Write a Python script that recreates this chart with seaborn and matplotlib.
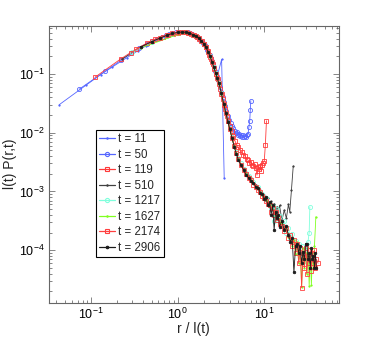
import numpy as np
import pandas as pd
import matplotlib
matplotlib.use("Agg")
import matplotlib.pyplot as plt
from matplotlib.lines import Line2D
import seaborn as sns

# ---------------- data ----------------
labels = ["t = 11", "t = 50", "t = 119", "t = 510", "t = 1217", "t = 1627", "t = 2174", "t = 2906"]

x11 = [0.043, 0.087, 0.13, 0.174, 0.26, 0.35, 0.43, 0.52, 0.65, 0.78, 0.91, 1.04, 1.17, 1.3, 1.43, 1.56,
       1.74, 1.91, 2.09, 2.26, 2.43, 2.61, 2.78, 2.89, 3.22, 3.45]
y11 = [0.030, 0.064, 0.098, 0.13, 0.19, 0.25, 0.30, 0.35, 0.41, 0.46, 0.49, 0.51, 0.52, 0.505, 0.485, 0.46,
       0.405, 0.35, 0.29, 0.235, 0.18, 0.135, 0.108, 0.096, 0.177, 0.0017]

x50 = [0.073, 0.146, 0.22, 0.29, 0.36, 0.44, 0.51, 0.58, 0.66, 0.73, 0.8, 0.88, 0.95, 1.02, 1.1,
       1.17, 1.24, 1.31, 1.39, 1.46, 1.53, 1.61, 1.68, 1.75, 1.83, 1.9, 1.97, 2.05, 2.12, 2.19,
       2.27, 2.34, 2.41, 2.48, 2.56, 2.63, 2.7, 2.78, 2.85, 2.92, 3.0, 3.1, 3.2, 3.3, 3.4,
       3.5, 3.65, 3.8, 3.95, 4.1, 4.25, 4.4, 4.55, 4.7, 4.85, 5.0, 5.15, 5.3, 5.45, 5.6,
       5.75, 5.9, 6.05, 6.2, 6.35, 6.5, 6.65, 6.8, 6.9, 7.0]
y50 = [0.055, 0.112, 0.17, 0.225, 0.28, 0.33, 0.365, 0.395, 0.425, 0.455, 0.475, 0.495, 0.51, 0.52, 0.525,
       0.525, 0.52, 0.51, 0.495, 0.48, 0.465, 0.45, 0.43, 0.41, 0.385, 0.36, 0.335, 0.31, 0.285, 0.26,
       0.235, 0.21, 0.19, 0.166, 0.146, 0.13, 0.113, 0.1, 0.089, 0.08, 0.071, 0.059, 0.049, 0.04, 0.033,
       0.028, 0.023, 0.019, 0.0165, 0.0145, 0.0128, 0.012, 0.0106, 0.0098, 0.0102, 0.0093, 0.0095, 0.0088, 0.0092, 0.0086,
       0.009, 0.0083, 0.0088, 0.0084, 0.0091, 0.0095, 0.0125, 0.016, 0.024, 0.035]

x119 = [0.111, 0.22, 0.33, 0.44, 0.55, 0.67, 0.78, 0.89, 1.0, 1.11, 1.22, 1.33, 1.44, 1.55, 1.67,
        1.78, 1.89, 2.0, 2.11, 2.22, 2.33, 2.44, 2.55, 2.66, 2.78, 2.89, 3.0, 3.11, 3.22, 3.33,
        3.44, 3.55, 3.7, 3.85, 4.0, 4.2, 4.4, 4.6, 4.8, 5.0, 5.25, 5.5, 5.75, 6.0, 6.25,
        6.5, 6.75, 7.0, 7.25, 7.5, 7.75, 8.0, 8.25, 8.5, 8.75, 9.0, 9.25, 9.5, 9.75, 10.0, 10.3, 10.6]
y119 = [0.088, 0.18, 0.265, 0.335, 0.395, 0.43, 0.46, 0.48, 0.5, 0.51, 0.515, 0.505, 0.485, 0.465, 0.435,
        0.4, 0.365, 0.33, 0.29, 0.25, 0.21, 0.178, 0.148, 0.122, 0.1, 0.083, 0.069, 0.056, 0.046, 0.037,
        0.03, 0.025, 0.0195, 0.016, 0.0132, 0.0105, 0.0088, 0.0072, 0.0063, 0.0057, 0.005, 0.0047, 0.0042, 0.004, 0.0036,
        0.0034, 0.0031, 0.0032, 0.0028, 0.0027, 0.0029, 0.0025, 0.0019, 0.0026, 0.0024, 0.0027, 0.0022, 0.0028, 0.003, 0.0033,
        0.0062, 0.016]

x510 = [0.226, 0.38, 0.5, 0.62, 0.75, 0.87, 1.0, 1.12, 1.25, 1.37, 1.5, 1.62, 1.75, 1.87, 2.0,
        2.12, 2.25, 2.37, 2.5, 2.62, 2.75, 2.87, 3.0, 3.2, 3.4, 3.6, 3.8, 4.0, 4.25, 4.5,
        4.75, 5.0, 5.4, 5.8, 6.2, 6.6, 7.0, 7.5, 8.0, 8.5, 9.0, 9.5, 10, 10.5, 11,
        11.5, 12, 12.5, 13, 13.5, 14, 14.5, 15, 16, 17, 18, 19, 19.7, 20.6, 21.6]
y510 = [0.177, 0.29, 0.355, 0.405, 0.455, 0.49, 0.51, 0.52, 0.515, 0.495, 0.47, 0.445, 0.41, 0.37, 0.33,
        0.285, 0.24, 0.2, 0.16, 0.13, 0.103, 0.085, 0.069, 0.047, 0.031, 0.022, 0.0158, 0.0118, 0.0082, 0.006,
        0.0046, 0.0037, 0.0029, 0.0025, 0.0021, 0.0018, 0.0017, 0.0014, 0.0013, 0.0011, 0.00105, 0.0009, 0.00088, 0.0007, 0.00076,
        0.0006, 0.00068, 0.00048, 0.00062, 0.0004, 0.00055, 0.00036, 0.00058, 0.00032, 0.00048, 0.00035, 0.0006, 0.00045, 0.00106, 0.0027]

x1217 = [0.3, 0.5, 0.62, 0.75, 0.87, 1.0, 1.12, 1.25, 1.37, 1.5, 1.62, 1.75, 1.87, 2.0, 2.12,
         2.25, 2.37, 2.5, 2.62, 2.75, 2.87, 3.0, 3.2, 3.4, 3.6, 3.8, 4.0, 4.25, 4.5, 4.75,
         5.0, 5.4, 5.8, 6.2, 6.6, 7.0, 7.5, 8.0, 8.5, 9.0, 9.5, 10, 10.5, 11, 11.5,
         12, 12.5, 13, 13.5, 14, 14.5, 15, 16, 17, 18, 19, 20, 21, 22, 23,
         24, 25, 26, 27, 28, 29, 30, 31, 32, 33, 33.6]
y1217 = [0.235, 0.355, 0.405, 0.45, 0.485, 0.51, 0.52, 0.515, 0.495, 0.47, 0.445, 0.41, 0.37, 0.33, 0.285,
         0.24, 0.2, 0.16, 0.13, 0.103, 0.085, 0.069, 0.047, 0.031, 0.022, 0.016, 0.012, 0.0083, 0.006, 0.0047,
         0.0037, 0.003, 0.0024, 0.0021, 0.0018, 0.0016, 0.00145, 0.0012, 0.00118, 0.00098, 0.00092, 0.0008, 0.00078, 0.00064, 0.00062,
         0.0005, 0.00056, 0.00032, 0.0004, 0.0005, 0.00033, 0.00038, 0.00026, 0.00031, 0.0002, 0.00024, 0.00016, 0.00019, 0.00012, 0.000145,
         0.00011, 0.00013, 0.00008, 0.00012, 0.00009, 0.000065, 0.00012, 0.00007, 0.00014, 0.0002, 0.00055]

x1627 = [0.38, 1.05, 1.25, 1.37, 1.5, 1.62, 1.75, 1.87, 2.0, 2.12, 2.25, 2.37, 2.5, 2.62, 2.75,
         2.87, 3.0, 3.2, 3.4, 3.6, 3.8, 4.0, 4.25, 4.5, 4.75, 5.0, 5.4, 5.8, 6.2, 6.6,
         7.0, 7.5, 8.0, 8.5, 9.0, 9.5, 10, 10.5, 11, 11.5, 12, 12.5, 13, 13.5, 14,
         14.5, 15, 16, 17, 18, 19, 20, 21, 22, 23, 24, 25, 26, 27, 28,
         29, 30, 31, 32, 33, 34, 35, 36, 37, 38, 39.4]
y1627 = [0.28, 0.48, 0.5, 0.49, 0.465, 0.44, 0.405, 0.365, 0.325, 0.282, 0.238, 0.198, 0.158, 0.128, 0.101,
         0.083, 0.067, 0.046, 0.03, 0.021, 0.0155, 0.0115, 0.0081, 0.0059, 0.0045, 0.0036, 0.0028, 0.0023, 0.002, 0.00175,
         0.00155, 0.0014, 0.0012, 0.0011, 0.00097, 0.00088, 0.0008, 0.00072, 0.00066, 0.00058, 0.00052, 0.00049, 0.00043, 0.00038, 0.00035,
         0.00036, 0.0003, 0.00028, 0.00022, 0.00026, 0.00017, 0.00016, 0.00012, 0.00015, 0.000085, 0.00014, 0.00006, 0.00012, 0.000024, 0.00011,
         0.00005, 0.00009, 0.00004, 0.00011, 0.000025, 0.00008, 0.000026, 0.00009, 0.00005, 0.00012, 0.00037]

x2174 = [0.29, 0.5, 0.62, 0.75, 0.87, 1.0, 1.12, 1.25, 1.37, 1.5, 1.62, 1.75, 1.87, 2.0, 2.12,
         2.25, 2.37, 2.5, 2.62, 2.75, 2.87, 3.0, 3.2, 3.4, 3.6, 3.8, 4.0, 4.25, 4.5, 4.75,
         5.0, 5.4, 5.8, 6.2, 6.6, 7.0, 7.5, 8.0, 8.5, 9.0, 9.5, 10, 10.5, 11, 11.5,
         12, 12.5, 13, 13.5, 14, 14.5, 15, 16, 17, 18, 19, 20, 21, 22, 23,
         24, 25, 26, 27, 28, 29, 30, 31, 32, 33, 34, 35, 36, 37, 38, 39, 40, 41.8]
y2174 = [0.232, 0.36, 0.41, 0.455, 0.49, 0.51, 0.52, 0.512, 0.492, 0.468, 0.442, 0.408, 0.368, 0.328, 0.283,
         0.238, 0.198, 0.159, 0.129, 0.102, 0.084, 0.068, 0.046, 0.0305, 0.0215, 0.0156, 0.0117, 0.0081, 0.0059, 0.0045,
         0.0036, 0.0028, 0.0023, 0.00195, 0.0017, 0.00155, 0.0013, 0.0012, 0.00105, 0.00098, 0.00085, 0.00078, 0.0007, 0.0006, 0.00058,
         0.00045, 0.00052, 0.0004, 0.00045, 0.00033, 0.00036, 0.00028, 0.00026, 0.00021, 0.00024, 0.00016, 0.00018, 0.00012, 0.00015, 0.00009,
         0.00013, 0.00006, 0.00011, 0.000023, 0.00009, 0.00005, 0.00011, 0.00004, 0.00008, 0.00006, 0.0001, 0.000045, 0.00009, 0.00006, 0.0001,
         0.00005, 0.00007, 0.00006]

x2906 = [0.38, 0.5, 0.62, 0.75, 0.87, 1.0, 1.12, 1.25, 1.37, 1.5, 1.62, 1.75, 1.87, 2.0, 2.12,
         2.25, 2.37, 2.5, 2.62, 2.75, 2.87, 3.0, 3.2, 3.4, 3.6, 3.8, 4.0, 4.25, 4.5, 4.75,
         5.0, 5.4, 5.8, 6.2, 6.6, 7.0, 7.5, 8.0, 8.5, 9.0, 9.5, 10, 10.5, 11, 11.5,
         12, 12.5, 13, 13.5, 14, 14.5, 15, 16, 17, 18, 19, 20, 21, 22, 23,
         24, 25, 26, 27, 28, 29, 30, 31, 32, 33, 34, 35, 36, 37, 38, 39, 40]
y2906 = [0.29, 0.355, 0.405, 0.455, 0.49, 0.51, 0.52, 0.515, 0.495, 0.47, 0.445, 0.41, 0.37, 0.33, 0.285,
         0.24, 0.2, 0.16, 0.13, 0.103, 0.085, 0.069, 0.047, 0.031, 0.022, 0.0155, 0.0115, 0.008, 0.0058, 0.0044,
         0.0035, 0.0028, 0.0023, 0.0019, 0.0017, 0.0015, 0.0014, 0.0012, 0.00115, 0.00095, 0.0009, 0.00075, 0.0008, 0.00058, 0.00065,
         0.0004, 0.00058, 0.00022, 0.00045, 0.00035, 0.0004, 0.00025, 0.00032, 0.00022, 0.00026, 0.00018, 0.00014, 0.00016, 0.000042, 0.00012,
         0.00013, 0.00009, 0.00012, 0.00006, 0.000095, 0.00007, 0.00013, 0.00013, 0.00007, 0.00009, 0.00005, 0.00011, 0.00007, 0.00008, 0.00005,
         0.00009, 0.00005]

xs = [x11, x50, x119, x510, x1217, x1627, x2174, x2906]
ys = [y11, y50, y119, y510, y1217, y1627, y2174, y2906]

# ---------------- style ----------------
colors = ["#5566ff", "#5566ff", "#ff3a3a", "#404040", "#80ffdd", "#80ff20", "#ff4040", "#1a1a1a"]
markers = [".", "o", "s", ".", "o", ".", "s", "."]
msizes = [2.0, 3.0, 2.8, 2.0, 3.0, 2.0, 2.8, 3.6]
filled = [True, False, False, True, False, True, False, True]

sns.set_theme(style="ticks")
plt.rcParams["font.family"] = ["Liberation Sans", "DejaVu Sans"]
plt.rcParams["mathtext.fontset"] = "custom"
plt.rcParams["mathtext.rm"] = "Liberation Sans"
plt.rcParams["mathtext.it"] = "Liberation Sans:italic"

fig = plt.figure(figsize=(3.74, 3.40), dpi=100)
fig.patch.set_facecolor("white")
ax = fig.add_axes([0.1297, 0.1097, 0.7754, 0.8153])
ax.set_facecolor("white")

frames = []
for lab, xv, yv in zip(labels, xs, ys):
    frames.append(pd.DataFrame({"x": xv, "y": yv, "t": lab}))
df = pd.concat(frames, ignore_index=True)

handles = []
for i, lab in enumerate(labels):
    sub = df[df["t"] == lab]
    c = colors[i]
    style = dict(color=c, linewidth=0.6, marker=markers[i], markersize=msizes[i],
                 markeredgecolor=c, markerfacecolor=(c if filled[i] else "none"),
                 markeredgewidth=0.6)
    sns.lineplot(data=sub, x="x", y="y", ax=ax, estimator=None, sort=False,
                 legend=False, **style)
    hstyle = dict(style)
    hstyle["linewidth"] = 0.9
    hstyle["markeredgewidth"] = 0.8
    handles.append(Line2D([], [], **hstyle))

ax.set_xscale("log")
ax.set_yscale("log")
ax.set_xlim(10 ** -1.49, 10 ** 1.857)
ax.set_ylim(10 ** -4.894, 10 ** -0.174)

ax.tick_params(which="both", direction="in", top=True, right=True, colors="#555555",
               labelcolor="black", labelsize=9, width=0.5)
ax.tick_params(which="major", length=4, pad=3)
ax.tick_params(which="minor", length=2)
for sp in ax.spines.values():
    sp.set_color("#666666")
    sp.set_linewidth(0.8)

ax.set_xlabel("r / l(t)", fontsize=10, labelpad=0)
ax.set_ylabel("l(t) P(r,t)", fontsize=10, labelpad=1)

leg = ax.legend(handles, labels, loc="upper left", bbox_to_anchor=(0.163, 0.623), borderaxespad=0,
                fontsize=8.3, handlelength=1.4, handletextpad=0.25, labelspacing=0.3,
                borderpad=0.3, fancybox=False, framealpha=1, edgecolor="black")
leg.get_frame().set_linewidth(0.8)

fig.savefig("out.png", dpi=100, facecolor="white")
